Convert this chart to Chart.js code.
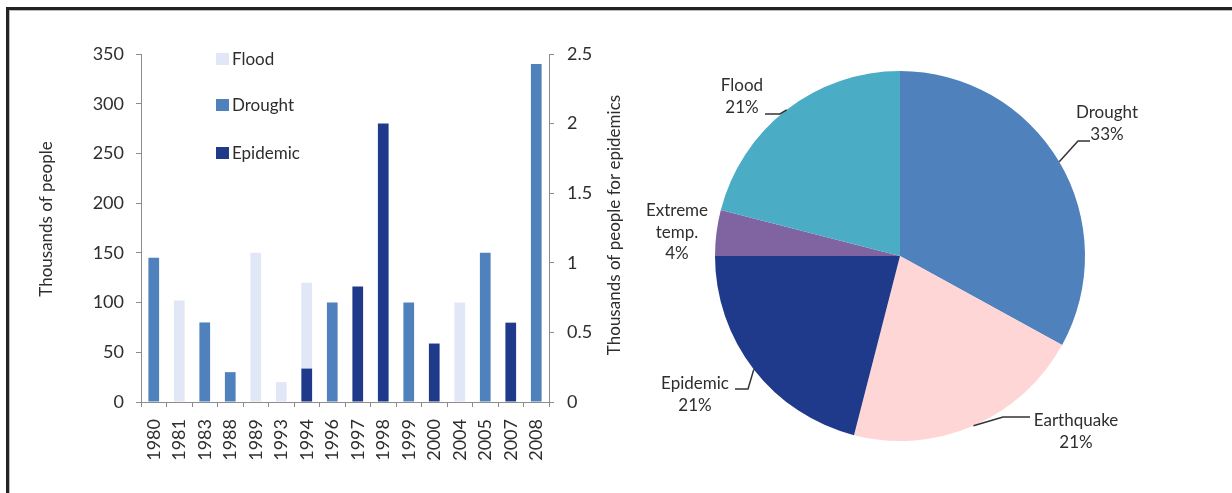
<!DOCTYPE html>
<html>
<head>
<meta charset="utf-8">
<script src="https://cdn.jsdelivr.net/npm/chart.js@4.4.1/dist/chart.umd.min.js"></script>
<style>
  html, body { margin: 0; padding: 0; background: #fff; }
  body { width: 1232px; height: 493px; position: relative; overflow: hidden; font-family: Lato, "Open Sans", sans-serif; }
  #frame { position: absolute; left: 6px; top: 7px; width: 1240px; height: 500px;
           border-left: 3px solid #222; border-top: 3px solid #222; box-shadow: inset 1px 1px 0 #bbb; }
  #barCanvas { position: absolute; left: 0; top: 0; }
  #pieCanvas { position: absolute; left: 620px; top: 40px; }
</style>
</head>
<body>
<div id="frame"></div>
<canvas id="barCanvas" width="640" height="493"></canvas>
<canvas id="pieCanvas" width="600" height="440"></canvas>
<script>
// Bar chart data
const years = ['1980', '1981', '1983', '1988', '1989', '1993', '1994', '1996', '1997', '1998', '1999', '2000', '2004', '2005', '2007', '2008'];
const floodValues =    [null, 102, null, null, 150, 20, 120, null, null, null, null, null, 100, null, null, null];
const droughtValues =  [145, null, 80, 30, null, null, null, 100, null, null, 100, null, null, 150, null, 340];
const epidemicValues = [null, null, null, null, null, null, 0.24, null, 0.83, 2.0, null, 0.42, null, null, 0.57, null];
const leftTicks = [0, 50, 100, 150, 200, 250, 300, 350];
const rightTicks = [0, 0.5, 1, 1.5, 2, 2.5];

// Pie chart data
const pieLabels = ['Drought', 'Earthquake', 'Epidemic', 'Extreme temp.', 'Flood'];
const pieValues = [33, 21, 21, 4, 21];

// Colours
const floodColor = '#e1e7f6';
const droughtColor = '#4f81bd';
const epidemicColor = '#1f3a8a';
const pieColors = ['#4f81bd', '#ffd6d6', '#1f3a8a', '#8064a2', '#4bacc6'];

const textColor = '#2e2e2e';
const axisColor = '#8c8c8c';
const fontFamily = 'Lato, "Open Sans", sans-serif';

// Legend and axis titles for the bar chart
const barDecor = {
    id: 'barDecor',
    afterDraw(chart) {
        const ctx = chart.ctx;
        ctx.save();
        ctx.font = '17px ' + fontFamily;
        ctx.fillStyle = textColor;
        ctx.textBaseline = 'middle';

        // legend
        const items = [
            { label: 'Flood', color: floodColor, y: 59 },
            { label: 'Drought', color: droughtColor, y: 105 },
            { label: 'Epidemic', color: epidemicColor, y: 153 }
        ];
        items.forEach(item => {
            ctx.fillStyle = item.color;
            ctx.fillRect(216, item.y - 6, 13, 12);
            ctx.fillStyle = textColor;
            ctx.textAlign = 'left';
            ctx.fillText(item.label, 232, item.y + 1);
        });

        // axis titles, both read bottom to top
        const titles = [
            { text: 'Thousands of people', x: 47, y: 219 },
            { text: 'Thousands of people for epidemics', x: 615, y: 225 }
        ];
        titles.forEach(t => {
            ctx.save();
            ctx.translate(t.x, t.y);
            ctx.rotate(-Math.PI / 2);
            ctx.textAlign = 'center';
            ctx.fillText(t.text, 0, 0);
            ctx.restore();
        });
        ctx.restore();
    }
};

const tickFont = { family: fontFamily, size: 18 };

new Chart(document.getElementById('barCanvas'), {
    type: 'bar',
    data: {
        labels: years,
        datasets: [
            { label: 'Epidemic', data: epidemicValues, backgroundColor: epidemicColor, yAxisID: 'y2', order: 0 },
            { label: 'Flood', data: floodValues, backgroundColor: floodColor, yAxisID: 'y', order: 1 },
            { label: 'Drought', data: droughtValues, backgroundColor: droughtColor, yAxisID: 'y', order: 1 }
        ]
    },
    options: {
        responsive: false,
        animation: false,
        layout: { padding: { top: 54, left: 0, right: 0, bottom: 0 } },
        datasets: { bar: { grouped: false, barPercentage: 0.42, categoryPercentage: 1.0 } },
        plugins: { legend: { display: false }, tooltip: { enabled: false } },
        scales: {
            x: {
                offset: true,
                grid: { offset: true, drawOnChartArea: false, tickLength: 5, color: axisColor },
                border: { color: axisColor },
                ticks: { minRotation: 90, maxRotation: 90, padding: 12, color: textColor, font: tickFont },
                afterFit(scale) { scale.height = 91; }
            },
            y: {
                position: 'left',
                min: 0,
                max: 350,
                afterBuildTicks(scale) { scale.ticks = leftTicks.map(v => ({ value: v })); },
                grid: { drawOnChartArea: false, tickLength: 5, color: axisColor },
                border: { color: axisColor },
                ticks: { padding: 12, color: textColor, font: tickFont },
                afterFit(scale) { scale.width = 141; }
            },
            y2: {
                position: 'right',
                min: 0,
                max: 2.5,
                afterBuildTicks(scale) { scale.ticks = rightTicks.map(v => ({ value: v })); },
                grid: { drawOnChartArea: false, tickLength: 5, color: axisColor },
                border: { color: axisColor },
                ticks: { padding: 13, color: textColor, font: tickFont, callback: v => String(v) },
                afterFit(scale) { scale.width = 91; }
            }
        }
    },
    plugins: [barDecor]
});

// Pie labels: text anchors and leader-line elbows in page coordinates
const pieOffset = { x: 620, y: 40 };
const pieLabelLayout = [
    { lines: ['Drought', '33%'], x: 1107, y: 113, leader: [[1078, 141], [1090, 141]] },
    { lines: ['Earthquake', '21%'], x: 1076, y: 421, leader: [[1003, 417], [1030, 417]] },
    { lines: ['Epidemic', '21%'], x: 695, y: 384, leader: [[748, 389], [735, 389]] },
    { lines: ['Extreme', 'temp.', '4%'], x: 677, y: 211, leader: null },
    { lines: ['Flood', '21%'], x: 742, y: 86, leader: [[780, 114], [765, 114]] }
];

const pieLabelPlugin = {
    id: 'pieLabels',
    afterDatasetsDraw(chart) {
        const ctx = chart.ctx;
        const arcs = chart.getDatasetMeta(0).data;
        ctx.save();
        ctx.font = '17px ' + fontFamily;
        ctx.fillStyle = textColor;
        ctx.textAlign = 'center';
        ctx.textBaseline = 'middle';
        arcs.forEach((arc, i) => {
            const lay = pieLabelLayout[i];
            const p = arc.getProps(['x', 'y', 'startAngle', 'endAngle', 'outerRadius'], true);
            const mid = (p.startAngle + p.endAngle) / 2;
            if (lay.leader) {
                const ex = p.x + Math.cos(mid) * p.outerRadius;
                const ey = p.y + Math.sin(mid) * p.outerRadius;
                ctx.beginPath();
                ctx.strokeStyle = '#333';
                ctx.lineWidth = 1.5;
                ctx.moveTo(ex, ey);
                lay.leader.forEach(pt => ctx.lineTo(pt[0] - pieOffset.x, pt[1] - pieOffset.y));
                ctx.stroke();
            }
            lay.lines.forEach((line, k) => {
                ctx.fillText(line, lay.x - pieOffset.x, lay.y - pieOffset.y + k * 21.5);
            });
        });
        ctx.restore();
    }
};

new Chart(document.getElementById('pieCanvas'), {
    type: 'pie',
    data: {
        labels: pieLabels,
        datasets: [{ data: pieValues, backgroundColor: pieColors, borderWidth: 0 }]
    },
    options: {
        responsive: false,
        animation: false,
        layout: { padding: { left: 95, right: 135, top: 31, bottom: 39 } },
        plugins: { legend: { display: false }, tooltip: { enabled: false } }
    },
    plugins: [pieLabelPlugin]
});
</script>
</body>
</html>
